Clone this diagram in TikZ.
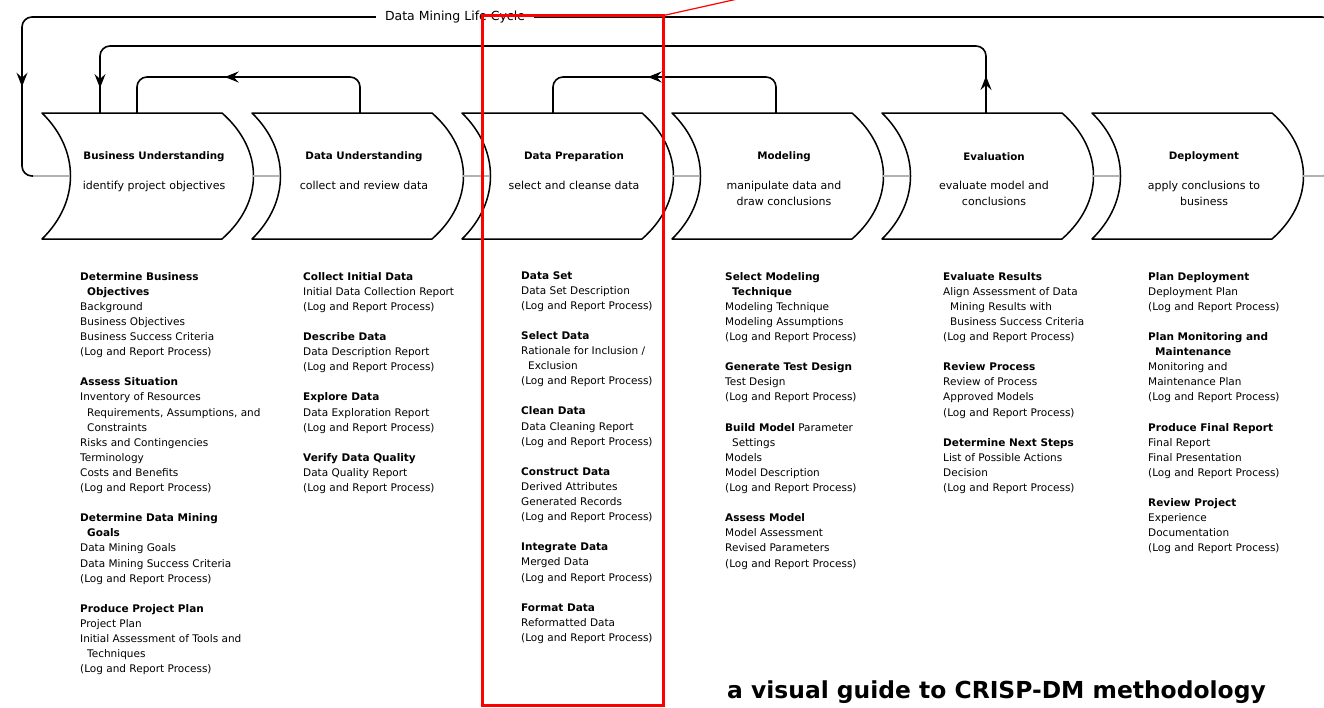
\documentclass[tikz,border=0pt]{standalone}
\usepackage{fontspec}
\setmainfont{DejaVu Sans}
\usetikzlibrary{arrows.meta,decorations.markings}
\newcommand\mychev[4]{%
  \begin{scope}[shift={(#2,0)}]
    \path[chevline] (0,113) -- (180,113) .. controls (222,150) and (222,202) .. (180,239)
      -- (0,239) .. controls (38,202) and (38,150) .. (0,113) -- cycle;
    \node[chevbox] (#1) at (119,176) {};
    \node[ttl] (#1-t) at (112,157) {#3};
    \node[sub] (#1-s) at (112,181) {#4};
  \end{scope}}
\newcommand\ind{\hspace*{7pt}}
\newcommand\gap{\\[15.1pt]}
\begin{document}
\begin{tikzpicture}[x=1pt,y=-1pt,
  chevline/.style={draw=black, line width=1.5pt, fill=white, line join=round},
  chevbox/.style={draw=none, minimum width=182pt, minimum height=126pt, inner sep=0pt, outer sep=0pt},
  ttl/.style={font=\fontsize{10.3}{12}\selectfont\bfseries, inner sep=0pt},
  sub/.style={font=\fontsize{11}{16}\selectfont, align=center, inner sep=0pt, anchor=north},
  lst/.style={font=\fontsize{10.5}{15.1}\selectfont, align=left, anchor=north west, inner sep=0pt},
  conn/.style={draw=black!30, line width=2pt},
  loopline/.style={draw=black, line width=1.6pt, rounded corners=10pt},
  >={Stealth[length=14pt,width=11pt,inset=5pt]},
  mk/.style={postaction={decorate}, decoration={markings, mark=at position #1 with {\arrow{>}}}},
  mktwo/.style 2 args={postaction={decorate}, decoration={markings,
      mark=at position #1 with {\arrow{>}}, mark=at position #2 with {\arrow{>}}}},
]
\useasboundingbox (0,0) rectangle (1324,707);

% chevrons
\mychev{bu}{42}{Business Understanding}{identify project objectives}
\mychev{du}{252}{Data Understanding}{collect and review data}
\mychev{dp}{462}{Data Preparation}{select and cleanse data}
\mychev{mo}{672}{Modeling}{manipulate data and\\draw conclusions}
\mychev{ev}{882}{Evaluation}{evaluate model and\\conclusions}
\mychev{de}{1092}{Deployment}{apply conclusions to\\business}

% outer life-cycle loop
\draw[loopline, mk=-133pt] (de.east) -- (1332,176) -- (1332,17) -- (22,17) -- (22,176) -- (bu.west);
\node[fill=white, inner xsep=9pt, inner ysep=2pt, font=\fontsize{12.5}{14}\selectfont] (lc) at (455,17) {Data Mining Life Cycle};

% gray connectors between phases
\draw[conn] (bu.east) -- (du.west);
\draw[conn] (du.east) -- (dp.west);
\draw[conn] (dp.east) -- (mo.west);
\draw[conn] (mo.east) -- (ev.west);
\draw[conn] (ev.east) -- (de.west);
\draw[conn] (de.east) -- (1326,176);
\draw[conn] (33,176) -- (bu.west);

% feedback loops
\draw[loopline, mktwo={37pt}{-25pt}] ([xshift=-15pt]ev.north) -- ++(0,-67) -| ([xshift=-61pt]bu.north);
\draw[loopline, mk=167pt] ([xshift=-11pt]du.north) -- ++(0,-36) -| ([xshift=-24pt]bu.north);
\draw[loopline, mk=160pt] ([xshift=-15pt]mo.north) -- ++(0,-36) -| ([xshift=-28pt]dp.north);

% task lists
\node[lst] (bu-l) at (80,272) {%
\textbf{Determine Business}\\ \ind\textbf{Objectives}\\ Background\\ Business Objectives\\ Business Success Criteria\\ (Log and Report Process)\gap
\textbf{Assess Situation}\\ Inventory of Resources\\ \ind Requirements, Assumptions, and\\ \ind Constraints\\ Risks and Contingencies\\ Terminology\\ Costs and Benefits\\ (Log and Report Process)\gap
\textbf{Determine Data Mining}\\ \ind\textbf{Goals}\\ Data Mining Goals\\ Data Mining Success Criteria\\ (Log and Report Process)\gap
\textbf{Produce Project Plan}\\ Project Plan\\ Initial Assessment of Tools and\\ \ind Techniques\\ (Log and Report Process)};

\node[lst] (du-l) at (303,272) {%
\textbf{Collect Initial Data}\\ Initial Data Collection Report\\ (Log and Report Process)\gap
\textbf{Describe Data}\\ Data Description Report\\ (Log and Report Process)\gap
\textbf{Explore Data}\\ Data Exploration Report\\ (Log and Report Process)\gap
\textbf{Verify Data Quality}\\ Data Quality Report\\ (Log and Report Process)};

\node[lst] (dp-l) at (521,271) {%
\textbf{Data Set}\\ Data Set Description\\ (Log and Report Process)\gap
\textbf{Select Data}\\ Rationale for Inclusion /\\ \ind Exclusion\\ (Log and Report Process)\gap
\textbf{Clean Data}\\ Data Cleaning Report\\ (Log and Report Process)\gap
\textbf{Construct Data}\\ Derived Attributes\\ Generated Records\\ (Log and Report Process)\gap
\textbf{Integrate Data}\\ Merged Data\\ (Log and Report Process)\gap
\textbf{Format Data}\\ Reformatted Data\\ (Log and Report Process)};

\node[lst] (mo-l) at (725,272) {%
\textbf{Select Modeling}\\ \ind\textbf{Technique}\\ Modeling Technique\\ Modeling Assumptions\\ (Log and Report Process)\gap
\textbf{Generate Test Design}\\ Test Design\\ (Log and Report Process)\gap
\textbf{Build Model} Parameter\\ \ind Settings\\ Models\\ Model Description\\ (Log and Report Process)\gap
\textbf{Assess Model}\\ Model Assessment\\ Revised Parameters\\ (Log and Report Process)};

\node[lst] (ev-l) at (943,272) {%
\textbf{Evaluate Results}\\ Align Assessment of Data\\ \ind Mining Results with\\ \ind Business Success Criteria\\ (Log and Report Process)\gap
\textbf{Review Process}\\ Review of Process\\ Approved Models\\ (Log and Report Process)\gap
\textbf{Determine Next Steps}\\ List of Possible Actions\\ Decision\\ (Log and Report Process)};

\node[lst] (de-l) at (1148,272) {%
\textbf{Plan Deployment}\\ Deployment Plan\\ (Log and Report Process)\gap
\textbf{Plan Monitoring and}\\ \ind\textbf{Maintenance}\\ Monitoring and\\ Maintenance Plan\\ (Log and Report Process)\gap
\textbf{Produce Final Report}\\ Final Report\\ Final Presentation\\ (Log and Report Process)\gap
\textbf{Review Project}\\ Experience\\ Documentation\\ (Log and Report Process)};

% footer
\node[anchor=base west, inner sep=0pt, font=\fontsize{23.4}{28}\selectfont\bfseries] (foot) at (727,698) {a visual guide to CRISP-DM methodology};

% red annotation
\draw[red, line width=3pt] (482.5,15.5) rectangle (663.5,705.5);
\draw[red, line width=1.2pt] (663.5,15.5) -- (742,-2);
\end{tikzpicture}
\end{document}
